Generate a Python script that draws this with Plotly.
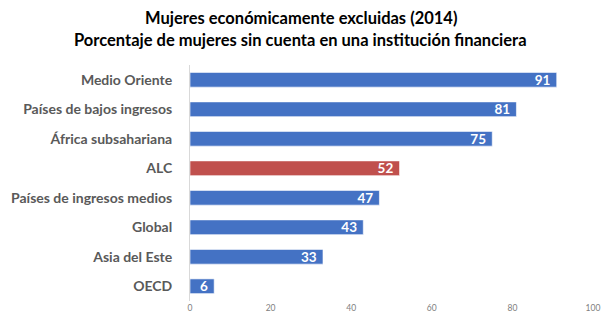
import plotly.graph_objects as go

categories = ["Medio Oriente", "Países de bajos ingresos", "África subsahariana", "ALC",
              "Países de ingresos medios", "Global", "Asia del Este", "OECD"]
values = [91, 81, 75, 52, 47, 43, 33, 6]
colors = ["#4472C4", "#4472C4", "#4472C4", "#C0504D", "#4472C4", "#4472C4", "#4472C4", "#4472C4"]
tick_vals = [0, 20, 40, 60, 80, 100]
title_lines = ["Mujeres económicamente excluidas (2014)",
               "Porcentaje de mujeres sin cuenta en una institución financiera"]

fig = go.Figure(go.Bar(
    x=values, y=categories, orientation="h",
    marker=dict(color=colors, line=dict(color="rgba(255,255,255,0.6)", width=1)),
    width=0.5,
    text=[str(v) + "\u00a0" for v in values], textposition="inside", insidetextanchor="end",
    textangle=0, constraintext="none",
    textfont=dict(color="white", size=13.5, family="Lato", weight="bold"),
    cliponaxis=False,
))

for i, (line, yy) in enumerate(zip(title_lines, [1.199, 1.106])):
    fig.add_annotation(text="<b>" + line + "</b>", x=0.2754, xref="paper", xanchor="center",
                       y=yy, yref="paper", yanchor="middle", showarrow=False,
                       font=dict(family="Lato", size=16.5, color="black"))

fig.update_layout(
    width=602, height=321,
    margin=dict(l=190, r=9, t=65, b=20, autoexpand=False),
    paper_bgcolor="white", plot_bgcolor="white",
    showlegend=False,
    xaxis=dict(range=[0, 100], tickvals=tick_vals, showgrid=False, zeroline=False,
               showline=False, tickfont=dict(family="Lato", size=8.5, color="#808080"),
               ticks="", fixedrange=True, automargin=False),
    yaxis=dict(autorange="reversed", showgrid=False, zeroline=False,
               showline=True, linecolor="#D9D9D9", linewidth=1,
               tickfont=dict(family="Lato", size=14, color="#595959", weight="bold"),
               ticks="", ticklabelstandoff=14, automargin=False),
    bargap=0.5,
)

fig.write_html("out.html")
